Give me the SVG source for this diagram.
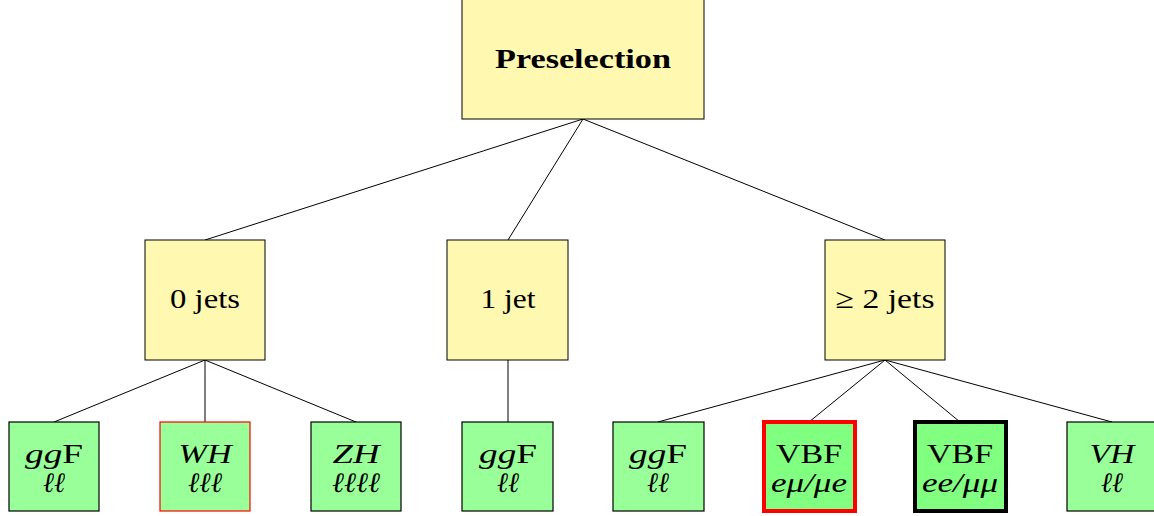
<svg xmlns="http://www.w3.org/2000/svg" width="1154" height="516" viewBox="0 0 1154 516">
  <style>
    text { font-family: "Liberation Serif", "Times New Roman", serif; font-size: 28px; fill: #000; text-anchor: middle; }
    .m { font-style: italic; }
    .b { font-weight: bold; font-size: 28px; }
    .cat { fill: #FFF8B0; stroke: #000; stroke-width: 1; }
    .leaf { fill: #99FF99; stroke: #000; stroke-width: 1.2; }
    .vbf { fill: #80FF80; stroke-width: 4; }
    .edge { stroke: #000; stroke-width: 1; fill: none; }
  </style>
  <rect width="1154" height="516" fill="#fff"/>

  <g id="connectors">
    <line class="edge" x1="583" y1="119" x2="205" y2="240"/>
    <line class="edge" x1="583" y1="119" x2="508" y2="240"/>
    <line class="edge" x1="583" y1="119" x2="885" y2="240"/>
    <line class="edge" x1="205" y1="360" x2="54" y2="422"/>
    <line class="edge" x1="205" y1="360" x2="205" y2="422"/>
    <line class="edge" x1="205" y1="360" x2="356" y2="422"/>
    <line class="edge" x1="508" y1="360" x2="508" y2="422"/>
    <line class="edge" x1="885" y1="360" x2="658" y2="422"/>
    <line class="edge" x1="885" y1="360" x2="809" y2="422"/>
    <line class="edge" x1="885" y1="360" x2="960" y2="422"/>
    <line class="edge" x1="885" y1="360" x2="1112" y2="422"/>
  </g>

  <g id="preselection">
    <rect class="cat" x="462" y="-1" width="242" height="120"/>
    <text class="b" x="583" y="68" textLength="176" lengthAdjust="spacingAndGlyphs">Preselection</text>
  </g>

  <g id="jets0">
    <rect class="cat" x="145" y="240" width="120" height="120"/>
    <text x="205" y="308" textLength="70" lengthAdjust="spacingAndGlyphs">0 jets</text>
  </g>
  <g id="jets1">
    <rect class="cat" x="447" y="240" width="121" height="120"/>
    <text x="508" y="308" textLength="55" lengthAdjust="spacingAndGlyphs">1 jet</text>
  </g>
  <g id="jets2">
    <rect class="cat" x="825" y="240" width="120" height="120"/>
    <text x="885" y="308" textLength="99" lengthAdjust="spacingAndGlyphs">≥ 2 jets</text>
  </g>

  <g id="ggf-0j">
    <rect class="leaf" x="9" y="422" width="90" height="89"/>
    <text x="54" y="463" textLength="58" lengthAdjust="spacingAndGlyphs"><tspan class="m">gg</tspan>F</text>
    <text class="m" x="54" y="492" textLength="22" lengthAdjust="spacingAndGlyphs">ℓℓ</text>
  </g>
  <g id="wh">
    <rect class="leaf" x="160" y="422" width="90" height="89" style="stroke:#FF0000"/>
    <text class="m" x="205" y="463" textLength="53" lengthAdjust="spacingAndGlyphs">WH</text>
    <text class="m" x="205" y="492" textLength="34" lengthAdjust="spacingAndGlyphs">ℓℓℓ</text>
  </g>
  <g id="zh">
    <rect class="leaf" x="311" y="422" width="90" height="89"/>
    <text class="m" x="356" y="463" textLength="47" lengthAdjust="spacingAndGlyphs">ZH</text>
    <text class="m" x="356" y="492" textLength="48" lengthAdjust="spacingAndGlyphs">ℓℓℓℓ</text>
  </g>
  <g id="ggf-1j">
    <rect class="leaf" x="462" y="422" width="91" height="89"/>
    <text x="508" y="463" textLength="58" lengthAdjust="spacingAndGlyphs"><tspan class="m">gg</tspan>F</text>
    <text class="m" x="508" y="492" textLength="22" lengthAdjust="spacingAndGlyphs">ℓℓ</text>
  </g>
  <g id="ggf-2j">
    <rect class="leaf" x="613" y="422" width="91" height="89"/>
    <text x="658" y="463" textLength="58" lengthAdjust="spacingAndGlyphs"><tspan class="m">gg</tspan>F</text>
    <text class="m" x="658" y="492" textLength="22" lengthAdjust="spacingAndGlyphs">ℓℓ</text>
  </g>
  <g id="vbf-df">
    <rect class="leaf vbf" x="764" y="422" width="91" height="89" style="stroke:#FF0000"/>
    <text x="809" y="463" textLength="66" lengthAdjust="spacingAndGlyphs">VBF</text>
    <text class="m" x="809" y="492" textLength="76" lengthAdjust="spacingAndGlyphs">eμ/μe</text>
  </g>
  <g id="vbf-sf">
    <rect class="leaf vbf" x="915" y="422" width="91" height="89" style="stroke:#000"/>
    <text x="960" y="463" textLength="66" lengthAdjust="spacingAndGlyphs">VBF</text>
    <text class="m" x="960" y="492" textLength="76" lengthAdjust="spacingAndGlyphs">ee/μμ</text>
  </g>
  <g id="vh">
    <rect class="leaf" x="1067" y="422" width="91" height="89"/>
    <text class="m" x="1112" y="463" textLength="45" lengthAdjust="spacingAndGlyphs">VH</text>
    <text class="m" x="1112" y="492" textLength="22" lengthAdjust="spacingAndGlyphs">ℓℓ</text>
  </g>
</svg>
